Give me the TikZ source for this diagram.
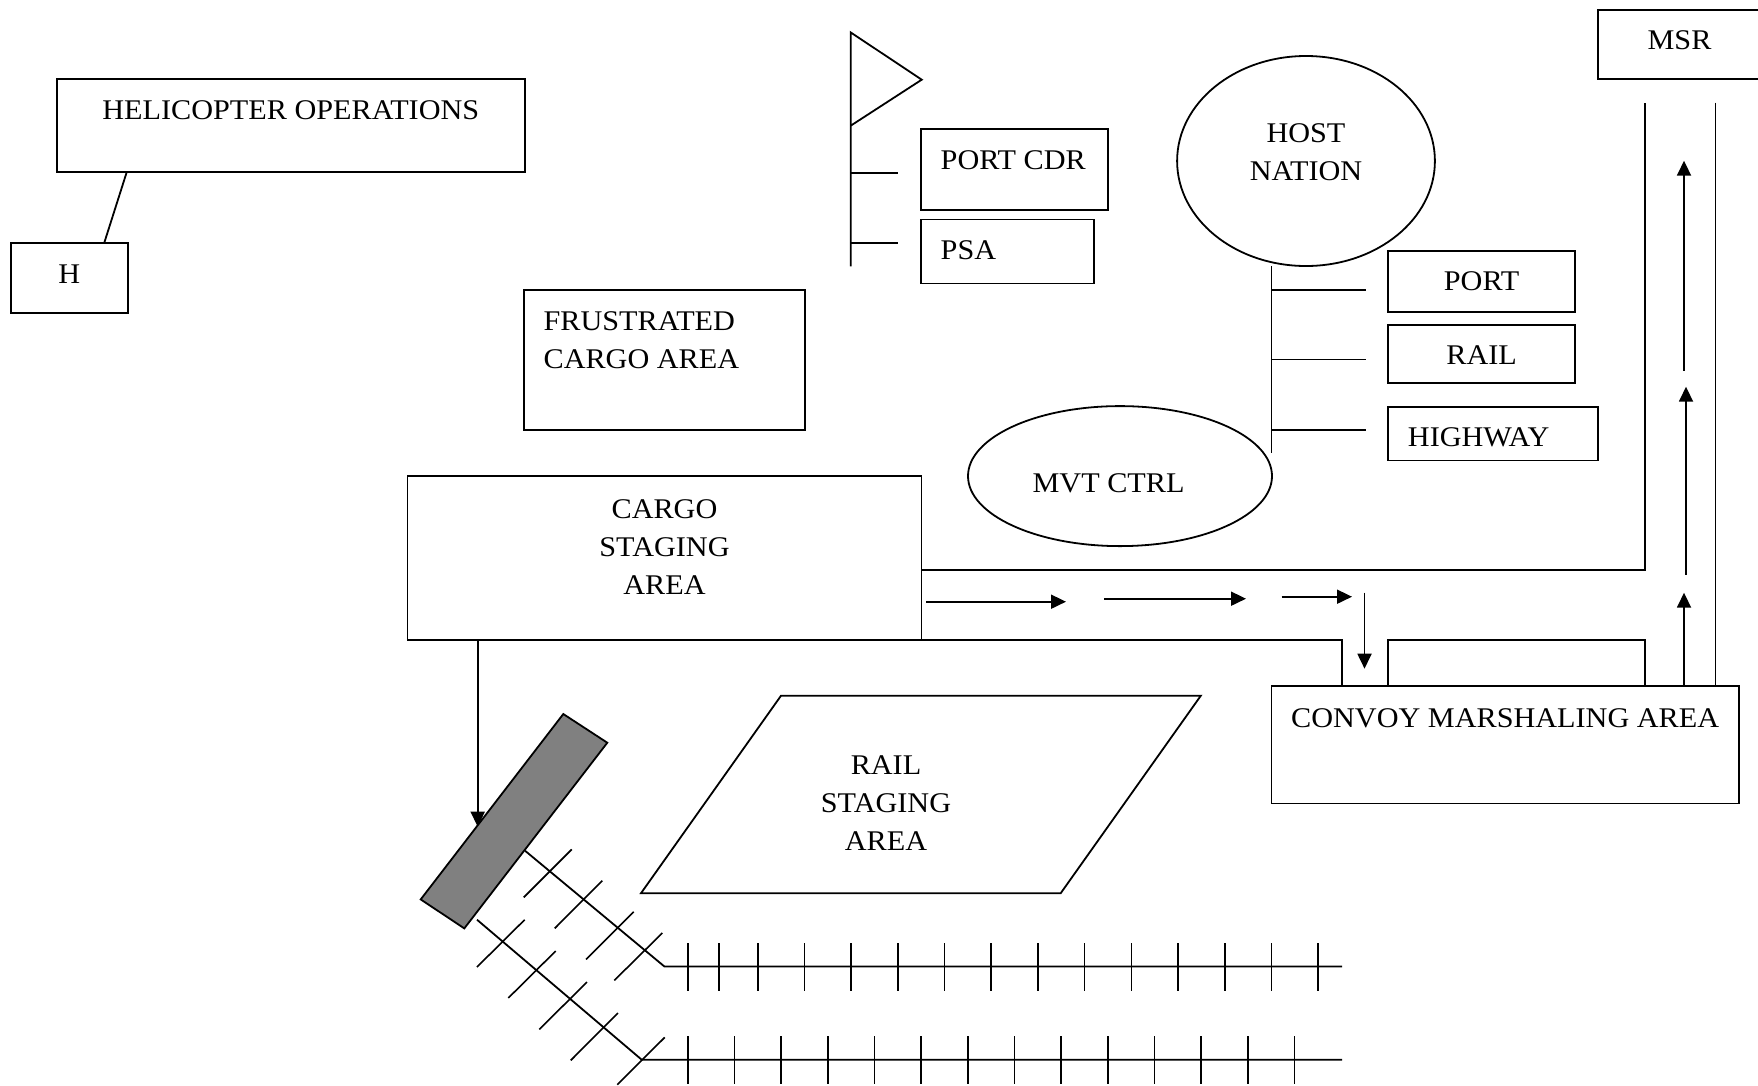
\documentclass[tikz,border=0pt]{standalone}
\usepackage{fontspec}
\setmainfont[FakeStretch=1.06]{Liberation Serif}
\usetikzlibrary{arrows.meta,shapes.geometric}
\newcommand{\bt}[4]{\parbox[c][#2pt][t]{#1pt}{\vspace*{#3pt}#4}}
\tikzset{
  x=1pt,y=-1pt,
  every node/.style={font=\fontsize{28.5}{38}\selectfont,inner sep=0pt,outer sep=0pt},
  line/.style={draw=black,line width=1.8pt},
  boxn/.style={draw=black,line width=1.8pt,rectangle},
  oval/.style={draw=black,line width=1.8pt,ellipse},
  flow/.style={draw=black,line width=1.8pt,-{Triangle[width=14pt,length=15pt]}},
  tie/.style={draw=black,line width=1.6pt},
  gray block/.style={draw=black,line width=1.8pt,fill=black!50}
}
\begin{document}
\begin{tikzpicture}
\useasboundingbox (0,-0.7) rectangle (1758,1084.3);
\fill[white] (0,-0.7) rectangle (1758,1084.3);
% boxes
\node[boxn] (heli) at (290.8,125) {\bt{467.7}{93}{21.5}{\centering HELICOPTER OPERATIONS}};
\node[boxn] (h) at (69.2,277) {\bt{117.2}{70}{22}{\centering H}};
\node[boxn] (msr) at (1679.5,43.7) {\bt{163}{69.5}{21}{\centering MSR}};
\node[boxn] (frus) at (664.3,359.3) {\bt{281.4}{140}{22}{\hspace*{20pt}FRUSTRATED\\\hspace*{20pt}CARGO AREA}};
\node[boxn] (cargo) at (664.5,557.2) {\bt{514}{163.6}{23.5}{\centering CARGO\\STAGING\\AREA}};
\node[boxn] (cdr) at (1014.5,168.5) {\bt{187.6}{81}{22}{\hspace*{20pt}PORT CDR}};
\node[boxn] (psa) at (1007.5,250.7) {\bt{173.6}{64}{21}{\hspace*{20pt}PSA}};
\node[boxn] (port) at (1481.6,280.8) {\bt{187.3}{61.7}{21}{\centering PORT}};
\node[boxn] (rail) at (1481.6,353.2) {\bt{187.3}{58.3}{21}{\centering RAIL}};
\node[boxn] (high) at (1492.8,432.8) {\bt{209.7}{53.8}{21}{\hspace*{20pt}HIGHWAY}};
\node[boxn] (convoy) at (1505.2,743.9) {\bt{467.6}{117.8}{23}{\centering CONVOY MARSHALING AREA}};
% ovals
\node[oval,minimum width=257.8pt,minimum height=210pt] (host) at (1306,160.3) {\bt{130}{110}{18}{\centering HOST\\NATION}};
\node[oval,minimum width=304pt,minimum height=140pt] (mvt) at (1120,475.4) {\bt{180}{80}{37.6}{\hspace*{2.6pt}MVT CTRL}};
% helicopter link
\coordinate (heliA) at (126.7,171.5);
\coordinate (hA) at (104.3,242);
\draw[line] (heliA) -- (hA);
% flag
\coordinate (poleTop) at (850.7,31.7);
\coordinate (poleEnd) at (850.7,265.7);
\coordinate (flagTip) at (921.7,79);
\coordinate (flagLow) at (850.7,125);
\coordinate (tickA) at (850.7,172);
\coordinate (tickAe) at (898.3,172);
\coordinate (tickB) at (850.7,242);
\coordinate (tickBe) at (898.3,242);
\draw[line,line join=miter] (poleEnd) -- (poleTop) -- (flagTip) -- (flagLow);
\draw[line] (tickA) -- (tickAe);
\draw[line] (tickB) -- (tickBe);
% host nation bus
\coordinate (busTop) at (1271.4,265.7);
\coordinate (busEnd) at (1271.4,452);
\coordinate (b1) at (1271.4,289.3);
\coordinate (b1e) at (1365.6,289.3);
\coordinate (b2) at (1271.4,358.8);
\coordinate (b2e) at (1365.6,358.8);
\coordinate (b3) at (1271.4,428.9);
\coordinate (b3e) at (1365.6,428.9);
\draw[line] (busTop) -- (busEnd);
\draw[line] (b1) -- (b1e);
\draw[line] (b2) -- (b2e);
\draw[line] (b3) -- (b3e);
% road outlines
\coordinate (roadA) at (921.6,569.6);
\coordinate (roadB) at (1644.8,569.6);
\coordinate (roadC) at (1644.8,102);
\coordinate (roadD) at (1715.5,102);
\coordinate (roadE) at (1715.5,685);
\coordinate (lowA) at (921.6,639);
\coordinate (lowB) at (1342,639);
\coordinate (lowC) at (1342,685);
\coordinate (midA) at (1388,685);
\coordinate (midB) at (1388,639);
\coordinate (midC) at (1644.8,639);
\coordinate (midD) at (1644.8,685);
\draw[line] (roadA) -- (roadB) -- (roadC);
\draw[line] (roadD) -- (roadE);
\draw[line] (lowA) -- (lowB) -- (lowC);
\draw[line] (midA) -- (midB) -- (midC) -- (midD);
% flow arrows
\coordinate (f1a) at (926,601);
\coordinate (f1b) at (1066,601);
\coordinate (f2a) at (1104,598);
\coordinate (f2b) at (1246,598);
\coordinate (f3a) at (1281.5,596);
\coordinate (f3b) at (1352,596);
\coordinate (f4a) at (1364.5,592);
\coordinate (f4b) at (1364.5,668);
\coordinate (u1a) at (1684,685);
\coordinate (u1b) at (1684,592);
\coordinate (u2a) at (1686,574);
\coordinate (u2b) at (1686,386);
\coordinate (u3a) at (1684,370);
\coordinate (u3b) at (1684,160);
\draw[flow] (f1a) -- (f1b);
\draw[flow] (f2a) -- (f2b);
\draw[flow] (f3a) -- (f3b);
\draw[flow] (f4a) -- (f4b);
\draw[flow] (u1a) -- (u1b);
\draw[flow] (u2a) -- (u2b);
\draw[flow] (u3a) -- (u3b);
% cargo to rail head
\coordinate (cargoDrop) at (477.7,639);
\coordinate (dropEnd) at (477.7,826);
\draw[flow] (cargoDrop) -- (dropEnd);
% rail staging
\draw[line,line join=miter] (781,695) -- (1200.8,695) -- (1060.7,892.5) -- (641,892.5) -- cycle;
\node[align=center] (railstage) at (886,802) {RAIL\\STAGING\\AREA};
% gray block
\draw[gray block] (563.3,713.3) -- (607.3,742) -- (464.3,927.7) -- (420.7,898.7) -- cycle;
% tracks
\draw[line,line join=miter] (525,850) -- (664.3,965.7) -- (1342,965.7);
\draw[line,line join=miter] (477,919) -- (641.7,1059) -- (1342,1059);
\foreach \a/\b/\c/\d in {571.7/848.7/523.7/896.7,602.3/880/554.7/927.7,633.7/911/586/958.7,662.3/932.3/614.3/979.7,
  524.7/919/477/966.3,555.7/950.3/508.3/997.3,587/981.3/539.3/1028.7,618/1012.3/570.7/1059.7,664.7/1036.7/617.3/1084}
  \draw[tie] (\a,\b) -- (\c,\d);
\foreach \x in {687.7,719,757.7,804.4,851.1,897.8,944.5,991.2,1037.9,1084.6,1131.3,1178,1224.7,1271.4,1318.1}
  \draw[tie] (\x,942.3) -- (\x,990);
\foreach \x in {687.7,734.3,781,827.7,874.3,921,967.7,1014.4,1061.1,1107.8,1154.5,1201.2,1247.9,1294.6}
  \draw[tie] (\x,1035.7) -- (\x,1083.3);
\end{tikzpicture}
\end{document}
